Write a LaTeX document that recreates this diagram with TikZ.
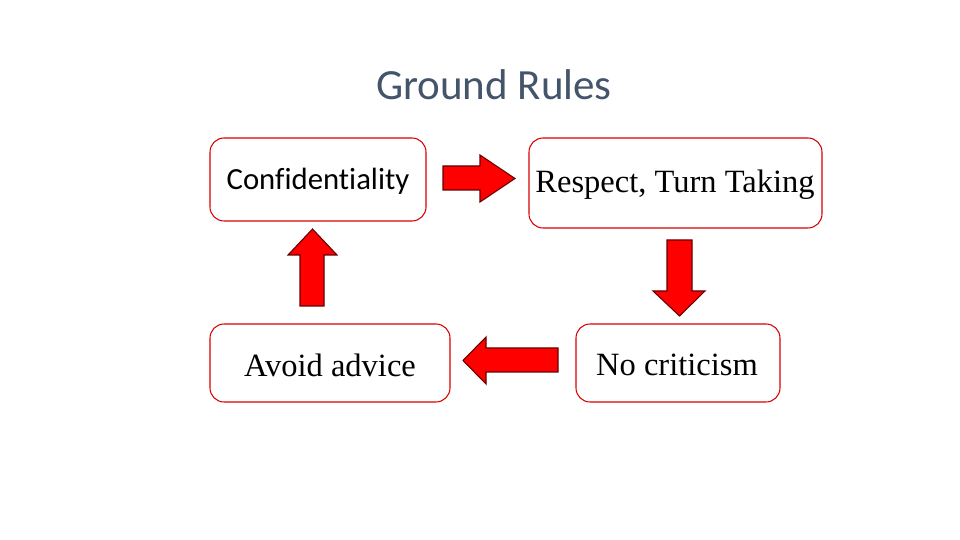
\documentclass[tikz,border=0pt]{standalone}
\usepackage{fontspec}
\setmainfont{Liberation Serif}
\newfontfamily\calib[Ligatures=CommonOff]{Carlito}
\begin{document}
\begin{tikzpicture}[x=0.02cm,y=-0.02cm,
  box/.style={draw=red!85!black,line width=0.6pt,rounded corners=8pt},
  blk/.style={fill=red,draw=red!40!black,line width=0.6pt}]
\useasboundingbox (0,0) rectangle (960,540);
\node (title) at (494,85) {\calib\fontsize{24.5}{28}\selectfont\color[HTML]{44546A}Ground Rules};
\draw[box] (210,138) rectangle (426,221);
\node (c) at (318,181) {\calib\fontsize{17.5}{20}\selectfont Confidentiality};
\draw[box] (529,138) rectangle (822,228);
\node (r) at (675,185) {\fontsize{18.5}{20}\selectfont Respect, Turn Taking};
\draw[box] (210,324) rectangle (450,402);
\node (a) at (330,365) {\fontsize{18.5}{20}\selectfont Avoid advice};
\draw[box] (576,324) rectangle (780,402);
\node (n) at (677,365) {\fontsize{18.5}{20}\selectfont No criticism};
% right arrow
\draw[blk] (443,166) -- (480,166) -- (480,155) -- (515,178.5) -- (480,202) -- (480,190) -- (443,190) -- cycle;
% down arrow
\draw[blk] (667,240) -- (692,240) -- (692,291) -- (705,291) -- (679.5,316) -- (653,291) -- (667,291) -- cycle;
% left arrow
\draw[blk] (558,348) -- (486,348) -- (486,337) -- (463,360.5) -- (486,384) -- (486,372) -- (558,372) -- cycle;
% up arrow
\draw[blk] (300,306) -- (324,306) -- (324,255) -- (337,255) -- (312.5,229) -- (288,255) -- (300,255) -- cycle;
\end{tikzpicture}
\end{document}
